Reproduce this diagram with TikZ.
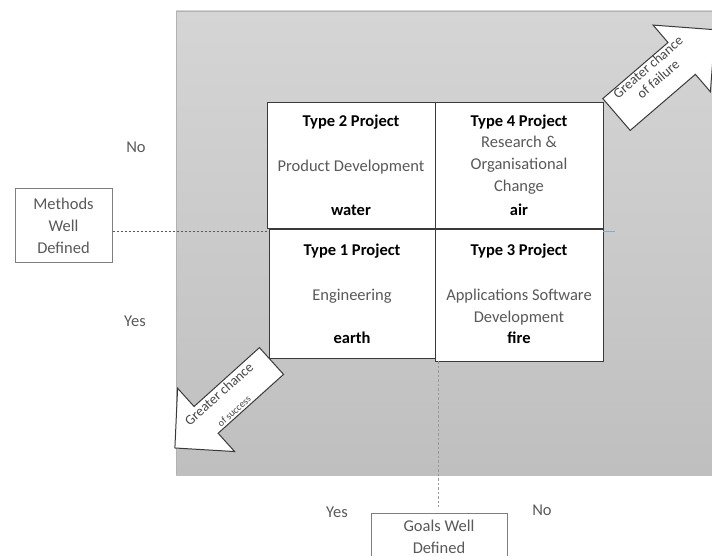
\documentclass[tikz,border=0pt]{standalone}
\usepackage{fontspec}
\setmainfont{Carlito}
\definecolor{bgtop}{HTML}{D5D5D5}
\definecolor{bgbot}{HTML}{BFBFBF}
\definecolor{desc}{HTML}{595959}
\definecolor{edge}{HTML}{3A3A3A}
\definecolor{boxedge}{HTML}{7F7F7F}
\definecolor{axisblue}{HTML}{8EA9C8}
\begin{document}
\begin{tikzpicture}[x=1pt,y=-1pt,
  every node/.style={font=\fontsize{16.5}{21.5}\selectfont},
  quad/.style={draw=edge, line width=1pt, fill=white, inner sep=0pt},
  sidebox/.style={draw=boxedge, line width=1pt, fill=white, inner sep=0pt},
  ttl/.style={anchor=base, inner sep=0pt, font=\fontsize{16.5}{21.5}\selectfont\bfseries, text=black},
  dsc/.style={anchor=base, inner sep=0pt, text=desc},
  lbl/.style={anchor=base, inner sep=0pt, text=desc},
  dotline/.style={draw=gray!70!black, line width=0.8pt, dash pattern=on 2pt off 2pt},
  dotline2/.style={draw=gray!80, line width=1pt, dash pattern=on 2.5pt off 2pt},
  bigarrow/.style={draw=edge, line width=1pt, fill=white, line join=miter},
  arrtxt/.style={inner sep=0pt, align=center, text=desc!80!black}
]
\useasboundingbox (0,0) rectangle (712,556);
\clip (0,0) rectangle (712,556);

% background panel
\fill[top color=bgtop, bottom color=bgbot] (176,11) rectangle (712,475);
\draw[gray!60, line width=0.8pt] (176,475) -- (176,11) -- (712,11);

% quadrant boxes
\node[quad, minimum width=168pt, minimum height=126pt] (t2) at (351,166) {};
\node[quad, minimum width=168pt, minimum height=126pt] (t4) at (519,166) {};
\node[quad, minimum width=166pt, minimum height=128pt] (t1) at (352,294) {};
\node[quad, minimum width=168pt, minimum height=131pt] (t3) at (519,295.5) {};

% Type 2
\node[ttl] (t2a) at (351,126.7) {Type 2 Project};
\node[dsc] (t2b) at (351,171.7) {Product Development};
\node[ttl] (t2c) at (351,215.7) {water};
% Type 4
\node[ttl] (t4a) at (519,126.7) {Type 4 Project};
\node[dsc] (t4b) at (519,148) {Research \&};
\node[dsc] (t4c) at (519,170) {Organisational};
\node[dsc] (t4d) at (519,191.7) {Change};
\node[ttl] (t4e) at (519,215.7) {air};
% Type 1
\node[ttl] (t1a) at (352,255.7) {Type 1 Project};
\node[dsc] (t1b) at (352,300) {Engineering};
\node[ttl] (t1c) at (352,343) {earth};
% Type 3
\node[ttl] (t3a) at (519,255.7) {Type 3 Project};
\node[dsc] (t3b) at (519,300) {Applications Software};
\node[dsc] (t3c) at (519,322) {Development};
\node[ttl] (t3d) at (519,343) {fire};

% side boxes
\node[sidebox, minimum width=97pt, minimum height=73pt] (methods) at (63.5,225.5) {};
\node[dsc] (m1) at (63.5,210) {Methods};
\node[dsc] (m2) at (63.5,231.7) {Well};
\node[dsc] (m3) at (63.5,253) {Defined};

\node[sidebox, minimum width=136pt, minimum height=60pt] (goals) at (439,543) {};
\node[dsc] (g1) at (439,531.7) {Goals Well};
\node[dsc] (g2) at (439,553) {Defined};

% yes / no labels
\node[lbl] (mno) at (136,153) {No};
\node[lbl] (myes) at (135,326.7) {Yes};
\node[lbl] (gyes) at (337,517) {Yes};
\node[lbl] (gno) at (542,515) {No};

% dotted connectors
\coordinate (hend) at (268,231);
\draw[dotline] (methods.east |- hend) -- (hend);
\coordinate (bstart) at (603,231);
\coordinate (bend) at (615,231);
\draw[axisblue, line width=0.8pt] (bstart) -- (bend);
\coordinate (vstart) at (438,361);
\draw[dotline2, shorten >=6pt] (vstart) -- (goals.north -| vstart);

% big arrows (drawn in local frame: tail at origin, pointing along +x)
\coordinate (failtail) at (616.5,114.5);
\begin{scope}[shift={(failtail)}, rotate=40.7]
  \draw[bigarrow] (0,-21) -- (86,-21) -- (86,-44) -- (130,0) -- (86,44) -- (86,21) -- (0,21) -- cycle;
\end{scope}
\node[arrtxt, rotate=40.7, font=\fontsize{14}{15.5}\selectfont] (failtxt) at (653,73)
  {Greater chance\\of failure};

\coordinate (succtail) at (271.5,361);
\begin{scope}[shift={(succtail)}, rotate=222]
  \draw[bigarrow] (0,-18) -- (88,-18) -- (88,-42.6) -- (130,0) -- (88,42.6) -- (88,18) -- (0,18) -- cycle;
\end{scope}
\node[arrtxt, rotate=42] (succtxt) at (226,402)
  {{\fontsize{14}{15}\selectfont Greater chance}\\{\fontsize{10}{11}\selectfont of success}};
\end{tikzpicture}
\end{document}
